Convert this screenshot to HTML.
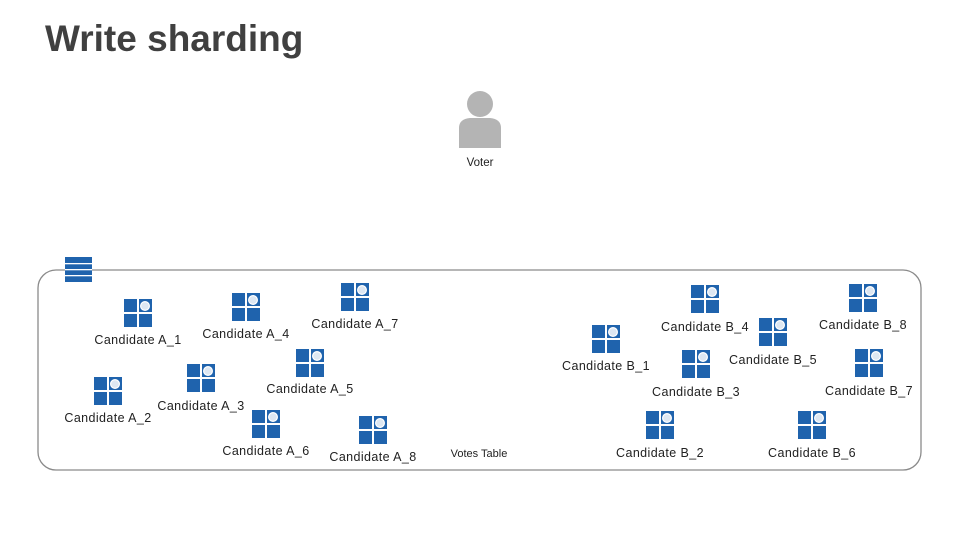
<!DOCTYPE html>
<html><head><meta charset="utf-8"><style>
body{margin:0;background:#fff;width:960px;height:540px;overflow:hidden}
svg text{font-family:"Liberation Sans",sans-serif;font-size:12.5px;letter-spacing:0.4px;fill:#222;text-anchor:middle}
</style></head><body>
<svg width="960" height="540" viewBox="0 0 960 540">
<defs>
<g id="c">
<rect x="-14" y="-14" width="28" height="28" fill="#1f63ad"/>
<rect x="-1" y="-14" width="2" height="28" fill="#fff"/>
<rect x="-14" y="-1" width="28" height="2" fill="#fff"/>
<circle cx="7" cy="-7" r="5" fill="#fff"/>
<circle cx="7" cy="-7" r="3.8" fill="#dde7f2"/>
</g>
</defs>
<text x="45" y="51" style="font-size:37px;font-weight:bold;fill:#404040;text-anchor:start;letter-spacing:0">Write sharding</text>
<circle cx="480" cy="104" r="13" fill="#b4b4b4"/>
<path d="M459 148 L459 128 Q459 119 470 118 L490 118 Q501 119 501 128 L501 148 Z" fill="#b4b4b4"/>
<text x="480" y="166" style="font-size:11.5px;letter-spacing:0">Voter</text>
<rect x="38" y="270" width="883" height="200" rx="18" fill="none" stroke="#8a8a8a" stroke-width="1.3"/>
<rect x="65" y="257" width="27" height="25" fill="#1f63ad"/>
<rect x="65" y="263" width="27" height="1.3" fill="#fff"/>
<rect x="65" y="269" width="27" height="1.3" fill="#fff"/>
<rect x="65" y="275" width="27" height="1.3" fill="#fff"/>
<use href="#c" x="138" y="313"/><text x="138" y="344">Candidate A_1</text>
<use href="#c" x="246" y="307"/><text x="246" y="338">Candidate A_4</text>
<use href="#c" x="355" y="297"/><text x="355" y="328">Candidate A_7</text>
<use href="#c" x="108" y="391"/><text x="108" y="422">Candidate A_2</text>
<use href="#c" x="201" y="378"/><text x="201" y="410">Candidate A_3</text>
<use href="#c" x="310" y="363"/><text x="310" y="393">Candidate A_5</text>
<use href="#c" x="266" y="424"/><text x="266" y="455">Candidate A_6</text>
<use href="#c" x="373" y="430"/><text x="373" y="461">Candidate A_8</text>
<text x="479" y="457" style="font-size:11px;letter-spacing:0">Votes Table</text>
<use href="#c" x="606" y="339"/><text x="606" y="370">Candidate B_1</text>
<use href="#c" x="705" y="299"/><text x="705" y="331">Candidate B_4</text>
<use href="#c" x="773" y="332"/><text x="773" y="364">Candidate B_5</text>
<use href="#c" x="863" y="298"/><text x="863" y="329">Candidate B_8</text>
<use href="#c" x="696" y="364"/><text x="696" y="396">Candidate B_3</text>
<use href="#c" x="869" y="363"/><text x="869" y="395">Candidate B_7</text>
<use href="#c" x="660" y="425"/><text x="660" y="457">Candidate B_2</text>
<use href="#c" x="812" y="425"/><text x="812" y="457">Candidate B_6</text>
</svg>
</body></html>
